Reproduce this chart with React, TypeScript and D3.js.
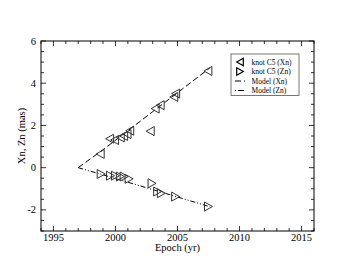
import React from 'react';
import * as d3 from 'd3';

// knot C5 positions
const xnEpochs = [1998.77, 1999.53, 1999.93, 2000.39, 2000.66, 2000.93, 2001.15, 2002.8, 2003.2, 2003.6, 2004.7, 2004.85, 2007.45];
const xnValues = [0.65, 1.37, 1.31, 1.43, 1.5, 1.59, 1.75, 1.73, 2.8, 2.96, 3.35, 3.51, 4.58];

const znEpochs = [1998.85, 1999.6, 2000.0, 2000.4, 2000.7, 2001.1, 2002.95, 2003.4, 2003.7, 2004.85, 2007.5];
const znValues = [-0.3, -0.38, -0.38, -0.42, -0.42, -0.53, -0.74, -1.13, -1.21, -1.37, -1.84];

const modelEpochs = [1997, 1999, 2001, 2003, 2005, 2007.6];
const modelXn = [0, 0.85, 1.75, 2.65, 3.55, 4.72];
const modelZn = [0, -0.34, -0.69, -1.04, -1.39, -1.85];

const xTicks = [1995, 2000, 2005, 2010, 2015];
const yTicks = [-2, 0, 2, 4, 6];

const legendLabels = ['knot C5 (Xn)', 'knot C5 (Zn)', 'Model (Xn)', 'Model (Zn)'];

const W = 353;
const H = 273;
const m = { left: 41, right: 314, top: 41, bottom: 231 };
const font = "'Liberation Serif', 'DejaVu Serif', serif";

const x = d3.scaleLinear().domain([1994, 2016]).range([m.left, m.right]);
const y = d3.scaleLinear().domain([-3, 6]).range([m.bottom, m.top]);

const line = d3.line<[number, number]>().x(d => x(d[0])).y(d => y(d[1]));

// triangles pointing left / right
const triLeft = (cx: number, cy: number, s = 4) =>
  `M${cx - s},${cy} L${cx + s},${cy - s - 0.5} L${cx + s},${cy + s + 0.5} Z`;
const triRight = (cx: number, cy: number, s = 4) =>
  `M${cx + s},${cy} L${cx - s},${cy - s - 0.5} L${cx - s},${cy + s + 0.5} Z`;

const dashXn = '6,3';
const dashZn = '5,2,1,2,1,2';

const App = () => {
  const xMinor = d3.range(1994, 2016.01, 1);
  const yMinor = d3.range(-3, 6.01, 0.5);
  const xnModel = modelEpochs.map((e, i) => [e, modelXn[i]] as [number, number]);
  const znModel = modelEpochs.map((e, i) => [e, modelZn[i]] as [number, number]);

  return (
    <svg width={W} height={H} style={{ position: 'absolute', left: 0, top: 0, background: '#fff' }}>
      {/* minor ticks */}
      <g stroke="#000" strokeWidth={0.8}>
        {xMinor.map(t => (
          <g key={'xm' + t}>
            <line x1={x(t)} x2={x(t)} y1={m.bottom} y2={m.bottom - (t % 5 === 0 ? 5 : 3)} />
            <line x1={x(t)} x2={x(t)} y1={m.top} y2={m.top + (t % 5 === 0 ? 5 : 3)} />
          </g>
        ))}
        {yMinor.map(t => (
          <g key={'ym' + t}>
            <line y1={y(t)} y2={y(t)} x1={m.left} x2={m.left + (t % 2 === 0 ? 5 : 3)} />
            <line y1={y(t)} y2={y(t)} x1={m.right} x2={m.right - (t % 2 === 0 ? 5 : 3)} />
          </g>
        ))}
      </g>
      <rect x={m.left} y={m.top} width={m.right - m.left} height={m.bottom - m.top}
        fill="none" stroke="#000" strokeWidth={1} />

      <g style={{ fontFamily: font }} fontSize={10.5} fill="#000">
        {xTicks.map(t => (
          <text key={'xt' + t} x={x(t)} y={241} textAnchor="middle">{t}</text>
        ))}
        {yTicks.map(t => (
          <text key={'yt' + t} x={m.left - 5} y={y(t) + 3.6} textAnchor="end">{t}</text>
        ))}
        <text x={(m.left + m.right) / 2} y={251} textAnchor="middle">Epoch (yr)</text>
        <text transform={`translate(25,${(m.top + m.bottom) / 2}) rotate(-90)`} textAnchor="middle">Xn, Zn (mas)</text>
      </g>

      {/* models */}
      <path d={line(xnModel) ?? ''} fill="none" stroke="#000" strokeWidth={1} strokeDasharray={dashXn} />
      <path d={line(znModel) ?? ''} fill="none" stroke="#000" strokeWidth={1} strokeDasharray={dashZn} />

      {/* data */}
      <g fill="none" stroke="#333" strokeWidth={1}>
        {xnEpochs.map((e, i) => (
          <path key={'xn' + i} d={triLeft(x(e), y(xnValues[i]))} />
        ))}
        {znEpochs.map((e, i) => (
          <path key={'zn' + i} d={triRight(x(e), y(znValues[i]))} />
        ))}
      </g>

      {/* legend */}
      <g>
        <rect x={231} y={54} width={68} height={41.5} fill="#fff" stroke="#555" strokeWidth={0.8} />
        {legendLabels.map((lab, i) => {
          const ly = 62 + i * 9.5;
          return (
            <g key={lab}>
              {i === 0 && <path d={triLeft(240, ly, 3.3)} fill="none" stroke="#000" strokeWidth={1.2} />}
              {i === 1 && <path d={triRight(240, ly, 3.3)} fill="none" stroke="#000" strokeWidth={1.2} />}
              {i === 2 && <line x1={235} x2={245} y1={ly} y2={ly} stroke="#000" strokeDasharray="6,3" />}
              {i === 3 && <line x1={235} x2={245} y1={ly} y2={ly} stroke="#000" strokeDasharray="1,2,6,1" />}
              <text x={251.5} y={ly + 2.5} style={{ fontFamily: font }} fontSize={7.5} fill="#000">{lab}</text>
            </g>
          );
        })}
      </g>
    </svg>
  );
};

export default App;
